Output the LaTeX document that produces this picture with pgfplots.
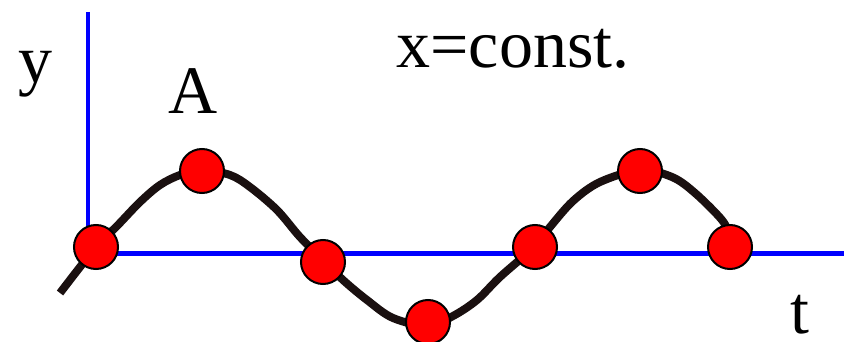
\documentclass[border=0pt]{standalone}
\usepackage{fontspec}
\setmainfont{Liberation Serif}
\usepackage{pgfplots}
\pgfplotsset{compat=1.18}
\definecolor{curve}{RGB}{26,16,16}
\begin{document}
\begin{tikzpicture}
\useasboundingbox (0,0) rectangle (844pt,341pt);
\clip (0,0) rectangle (844pt,341pt);
\begin{axis}[
  at={(0,0)}, anchor=south west,
  scale only axis, width=844pt, height=341pt,
  xmin=0, xmax=844, ymin=0, ymax=341,
  axis lines=none, clip=false,
]
% blue axes
\addplot[blue, line width=4.5pt] coordinates {(88,329) (88,87.5)};
\addplot[blue, line width=4.5pt] coordinates {(86,87.5) (844,87.5)};
% wave
\addplot[curve, line width=8pt, smooth, tension=0.55] coordinates {
(60,48) (96,94) (117,115) (140,139) (160,156) (180,166) (202,171) (230,166)
(250,154) (277,131) (300,104) (323,81) (343,61) (367,41) (393,23) (428,15)
(453,25) (477,41) (500,64) (534,94) (550,114) (573,140) (600,159) (640,171)
(672,164) (695,148) (722,121) (730,105)};
% points
\addplot[only marks, mark=*, mark size=22pt, mark options={fill=red, draw=black, line width=2pt}]
coordinates {(96,94) (202,170) (323,79) (428,19) (535,94) (640,170) (730,94)};
\node[anchor=base, inner sep=0pt, font=\fontsize{68}{80}\selectfont] at (axis cs:35,259) {y};
\node[anchor=base, inner sep=0pt, font=\fontsize{68}{80}\selectfont] at (axis cs:193,228) {A};
\node[anchor=base, inner sep=0pt, font=\fontsize{68}{80}\selectfont] at (axis cs:513,274) {x=const.};
\node[anchor=base, inner sep=0pt, font=\fontsize{68}{80}\selectfont] at (axis cs:800,8) {t};
\end{axis}
\end{tikzpicture}
\end{document}
